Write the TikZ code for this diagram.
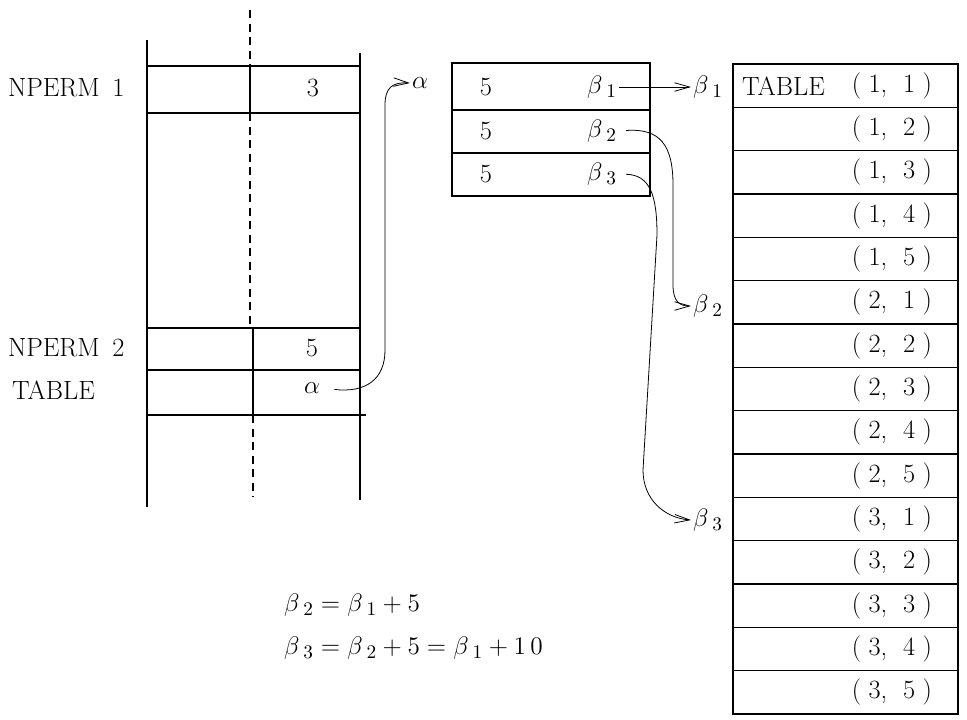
\documentclass[tikz,border=0pt]{standalone}
\usepackage{tikz}
\usetikzlibrary{positioning,arrows.meta,calc}
\tikzset{
  lbl/.style={font=\fontsize{15}{17}\selectfont, inner sep=1pt},
  rule/.style={line width=0.6pt},
  cut/.style={rule, dash pattern=on 1.6mm off 1.1mm},
  ptr/.style={-{Straight Barb[length=3mm,width=1.7mm]}, line width=0.45pt},
  cellnum/.style={lbl, anchor=east}
}

\begin{document}
\begin{tikzpicture}[x=0.2mm,y=-0.2mm]
  \useasboundingbox (0,0) rectangle (967,719);
  % storage column
  \draw[rule] (147,40) -- (147,507);
  \draw[rule] (360,53) -- (360,500);
  \draw[cut] (250,10) -- (250,66);
  \draw[cut] (250,113) -- (250,328);
  \draw[cut] (253,415) -- (253,497);
  \draw[rule] (250,66) -- (250,113);
  \draw[rule] (253,328) -- (253,415);
  \foreach \y in {66,113,328,370} \draw[rule] (147,\y) -- (360,\y);
  \draw[rule] (147,415) -- (366,415);
  \node[lbl, anchor=west] (np1) at (6,88) {NPERM\hspace{2.5mm}1};
  \node[lbl] (v3) at (313,88) {3};
  \node[lbl, anchor=west] (np2) at (6,348) {NPERM\hspace{2.5mm}2};
  \node[lbl] (v5) at (312,348) {5};
  \node[lbl, anchor=west] (tbl) at (10,390) {TABLE};
  \node[lbl] (alpha2) at (312,388) {$\alpha$};
  \node[lbl] (alpha1) at (420,83) {$\alpha$};

  % dope vector
  \draw[rule] (452,63) rectangle (650,196);
  \draw[rule] (452,110) -- (650,110);
  \draw[rule] (452,153) -- (650,153);
  \foreach \i/\y in {1/87,2/131,3/174} {
    \node[lbl] (n\i) at (486,\y) {5};
    \node[lbl] (b\i) at (602,\y) {$\beta_{\;\i}$};
  }
  \node[lbl] (t1) at (708,87) {$\beta_{\;1}$};
  \node[lbl] (t2) at (708,306) {$\beta_{\;2}$};
  \node[lbl] (t3) at (708,520) {$\beta_{\;3}$};

  % array elements
  \draw[rule] (733,64) rectangle (958,714);
  \foreach \k in {1,...,14} \draw[rule] (733,64+\k*43.33) -- (958,64+\k*43.33);
  \foreach \r in {1,2,3} {
    \foreach \c in {1,...,5} {
      \pgfmathsetmacro\yy{64+((\r-1)*5+\c-0.5)*43.33}
      \node[cellnum] (e\r\c) at (934,\yy) {(\;\r,\ \ \c\;)};
    }
  }
  \node[lbl, anchor=west] (tname) at (740,86) {TABLE};

  % pointers
  \draw[ptr, shorten <=7pt] (alpha2.east) .. controls (365,393) and (385,380) .. (385,350)
    -- (385,105) .. controls (385,88) and (392,82) .. (alpha1.west);
  \draw[ptr] (b1.east) -- (t1.west);
  \draw[ptr, shorten <=4pt] (b2.east) .. controls (660,128) and (673,145) .. (673,185)
    -- (673,285) .. controls (673,302) and (680,306) .. (t2.west);
  \draw[ptr, shorten <=4pt] (b3.east) .. controls (650,175) and (657,195) .. (657,235)
    -- (643,470) .. controls (643,500) and (665,518) .. (t3.west);

  % addresses
  \node[lbl, anchor=west] (f1) at (282,605) {$\beta_{\;2}=\beta_{\;1}+5$};
  \node[lbl, anchor=west] (f2) at (282,648) {$\beta_{\;3}=\beta_{\;2}+5=\beta_{\;1}+1\,0$};
\end{tikzpicture}
\end{document}
